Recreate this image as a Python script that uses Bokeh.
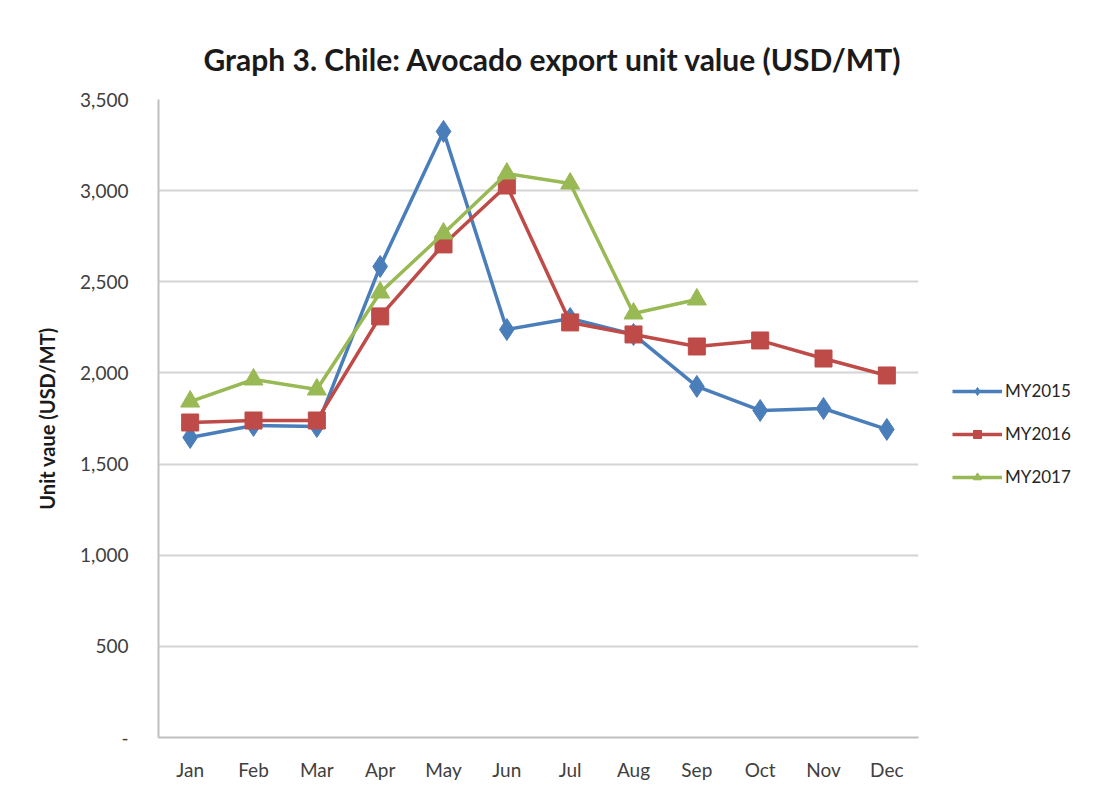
from bokeh.plotting import figure
from bokeh.models import (ColumnDataSource, Legend, LegendItem, FixedTicker,
                          NumeralTickFormatter, Title)
from bokeh.embed import file_html
from bokeh.resources import INLINE

months = ["Jan", "Feb", "Mar", "Apr", "May", "Jun", "Jul", "Aug", "Sep", "Oct", "Nov", "Dec"]
my2015 = [1646, 1712, 1706, 2584, 3325, 2238, 2299, 2211, 1926, 1794, 1805, 1690]
my2016 = [1728, 1739, 1739, 2310, 2705, 3028, 2277, 2211, 2145, 2178, 2079, 1986]
my2017 = [1843, 1964, 1909, 2441, 2765, 3094, 3039, 2326, 2403]
y_ticks = [0, 500, 1000, 1500, 2000, 2500, 3000, 3500]

FONT = "Lato"

p = figure(x_range=months, y_range=(0, 3500),
           frame_width=760, frame_height=638,
           output_backend="svg", toolbar_location=None,
           min_border_left=158, min_border_right=161, min_border_top=99,
           min_border_bottom=38)
p.outline_line_color = None
p.background_fill_color = "white"
p.border_fill_color = "white"

title = Title(text="Graph 3. Chile: Avocado export unit value (USD/MT)",
              text_font=FONT, text_font_size="30px", text_font_style="bold",
              text_color="#1a1a1a", align="left", offset=45, standoff=46)
p.add_layout(title, "above")

c15, c16, c17 = "#4A7EBB", "#BE4B48", "#98B954"

s15 = ColumnDataSource(dict(x=months, y=my2015))
s16 = ColumnDataSource(dict(x=months, y=my2016))
s17 = ColumnDataSource(dict(x=months[:len(my2017)], y=my2017))

l15 = p.line("x", "y", source=s15, color=c15, line_width=3.5)
m15 = p.scatter("x", "y", source=s15, marker="diamond", size=22, color=c15)
l16 = p.line("x", "y", source=s16, color=c16, line_width=3.5)
m16 = p.scatter("x", "y", source=s16, marker="square", size=17, color=c16)
l17 = p.line("x", "y", source=s17, color=c17, line_width=3.5)
m17 = p.scatter("x", "y", source=s17, marker="triangle", size=19, color=c17)

legend = Legend(items=[LegendItem(label="MY2015", renderers=[l15, m15]),
                       LegendItem(label="MY2016", renderers=[l16, m16]),
                       LegendItem(label="MY2017", renderers=[l17, m17])],
                location=(34, 250), label_text_font=FONT,
                label_text_font_size="17px", label_text_color="#262626",
                glyph_width=50, glyph_height=20, label_height=20,
                spacing=22, border_line_color=None, padding=0, margin=0,
                background_fill_alpha=0, label_standoff=3)
p.add_layout(legend, "right")

p.xgrid.grid_line_color = None
p.ygrid.grid_line_color = "#d4d4d4"
p.ygrid.grid_line_width = 2
p.yaxis.ticker = FixedTicker(ticks=y_ticks)
p.yaxis.formatter = NumeralTickFormatter(format="0,0")
p.yaxis.major_label_overrides = {0: "-"}
p.yaxis.axis_label = "Unit vaue (USD/MT)"
p.yaxis.axis_label_text_font = FONT
p.yaxis.axis_label_text_font_size = "20px"
p.yaxis.axis_label_text_font_style = "bold"
p.yaxis.axis_label_text_color = "#1a1a1a"
p.yaxis.axis_label_standoff = 18

for ax in (p.xaxis, p.yaxis):
    ax.axis_line_color = "#bfbfbf"
    ax.axis_line_width = 2
    ax.major_tick_line_color = None
    ax.minor_tick_line_color = None
    ax.major_label_text_font = FONT
    ax.major_label_text_font_size = "19px"
    ax.major_label_text_color = "#404040"
p.yaxis.major_label_standoff = 24
p.xaxis.major_label_standoff = 14

open("out.html", "w").write(file_html(p, INLINE))
